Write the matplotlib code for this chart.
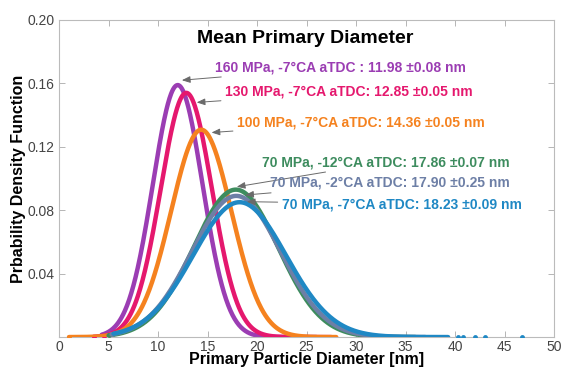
import numpy as np
from matplotlib import pyplot as plt

# fitted size distributions: mean and spread of primary particle diameter [nm]
labels = ['160 MPa, -7°CA aTDC : 11.98 ±0.08 nm',
          '130 MPa, -7°CA aTDC: 12.85 ±0.05 nm',
          '100 MPa, -7°CA aTDC: 14.36 ±0.05 nm',
          '70 MPa, -12°CA aTDC: 17.86 ±0.07 nm',
          '70 MPa, -2°CA aTDC: 17.90 ±0.25 nm',
          '70 MPa, -7°CA aTDC: 18.23 ±0.09 nm']
means = [11.98, 12.85, 14.36, 17.86, 17.90, 18.23]
sigmas = [2.51, 2.59, 3.05, 4.29, 4.48, 4.69]
# smallest / largest sampled diameter of the continuous part
sample_lo = [4.3, 3.5, 1.0, 5.0, 5.3, 5.5]
sample_hi = [26.0, 27.5, 28.0, 36.0, 37.0, 39.3]
# isolated sampled diameters in the tails
tail_dots = [[4.3, 4.8], [3.5, 4.5], [1.0], [5.0], [5.3],
             [40.3, 40.8, 42.0, 43.0, 46.8]]

colors = ['#9b3db3', '#e5186e', '#f5821f', '#3d8c5e', '#6d7fa6', '#1f88c4']

# annotation: arrow tip and text anchor (data coords)
tips = [(12.4, 0.162), (13.9, 0.148), (15.4, 0.129),
        (17.95, 0.0948), (18.8, 0.0896), (18.96, 0.0854)]
text_pos = [(15.76, 0.1703), (16.77, 0.1546), (17.98, 0.1356),
            (20.5, 0.1104), (21.3, 0.0972), (22.5, 0.0839)]


def pdf(x, mu, sd):
    return np.exp(-0.5 * ((x - mu) / sd) ** 2) / (sd * np.sqrt(2 * np.pi))


plt.rcParams['font.family'] = ['Liberation Sans', 'DejaVu Sans']
fig = plt.figure(figsize=(5.63, 3.70), dpi=100)
ax = fig.add_axes([0.105, 0.089, 0.879, 0.857])

for i in range(len(means)):
    x = np.linspace(sample_lo[i], sample_hi[i], 400)
    ax.plot(x, pdf(x, means[i], sigmas[i]), color=colors[i], lw=3.2,
            solid_capstyle='round', zorder=2 + i)
    d = np.asarray(tail_dots[i])
    ax.plot(d, pdf(d, means[i], sigmas[i]), 'o', color=colors[i], ms=3.5,
            mew=0, zorder=2 + i)

for i in range(len(labels)):
    ax.annotate(labels[i], xy=tips[i], xytext=text_pos[i],
                ha='left', va='center', fontsize=10, fontweight='bold',
                color=colors[i], zorder=20,
                arrowprops=dict(arrowstyle='-|>,head_length=0.5,head_width=0.2',
                                color='#6a6a6a', lw=0.7,
                                shrinkA=1, shrinkB=0))

ax.text(24.85, 0.1886, 'Mean Primary Diameter', ha='center', va='center',
        fontsize=14, fontweight='bold', color='black')

ax.set_xlim(0, 50)
ax.set_ylim(0, 0.20)
ax.set_xticks(np.arange(0, 51, 5))
ax.set_yticks([0.04, 0.08, 0.12, 0.16, 0.20])
ax.set_yticklabels(['0.04', '0.08', '0.12', '0.16', '0.20'])
ax.tick_params(direction='in', length=4, width=0.6, color='#aaaaaa',
               labelcolor='#444444', labelsize=10, top=True, right=True)
ax.tick_params(axis='x', pad=2)
for s in ax.spines.values():
    s.set_color('#bbbbbb')
    s.set_linewidth(0.8)

ax.set_xlabel('Primary Particle Diameter [nm]', fontsize=11.5,
              fontweight='bold', labelpad=-1)
ax.set_ylabel('Prbability Density Function', fontsize=11.5,
              fontweight='bold', labelpad=1)

fig.savefig('out.png', dpi=100)
